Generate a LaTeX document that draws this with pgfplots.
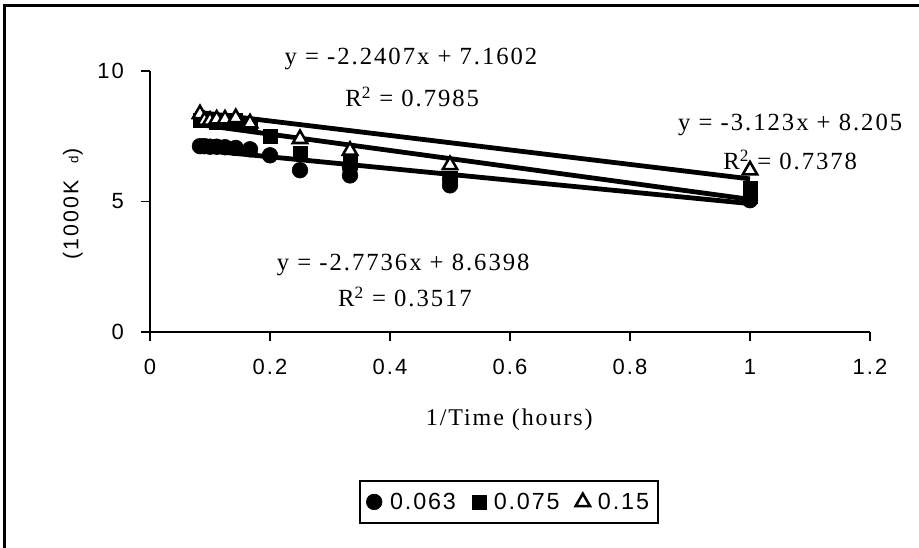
\documentclass[border=0pt]{standalone}
\usepackage{pgfplots}
\pgfplotsset{compat=1.18}
\usepackage{fontspec}
\setmainfont{Liberation Serif}
\newfontfamily\serifsp{Liberation Serif}[LetterSpace=8]
\newfontfamily\sanssp{Liberation Sans}[LetterSpace=10]
\newfontfamily\sanslg{Liberation Sans}[LetterSpace=8]

\begin{document}
\begin{tikzpicture}
\begin{axis}[
  at={(0,0)}, anchor=south west,
  scale only axis,
  width=540pt, height=195.75pt,
  xmin=0, xmax=1.2, ymin=0, ymax=10,
  axis x line*=bottom, axis y line*=left,
  axis line style={line width=1.2pt},
  xtick={0,0.2,0.4,0.6,0.8,1,1.2},
  ytick={0,5,10},
  xticklabels={0,0.2,0.4,0.6,0.8,1,1.2},
  yticklabels={0,5,10},
  tick align=outside,
  major tick length=7pt,
  tick style={line width=1.2pt, black},
  xticklabel style={font=\fontsize{16.5}{18}\sanssp, anchor=north, yshift=-10pt},
  yticklabel style={font=\fontsize{16.5}{18}\sanssp, anchor=east, xshift=-9pt},
  xlabel={\fontsize{18}{20}\serifsp 1/Time (hours)},
  xlabel style={at={(axis description cs:0.499,-0.337)}, anchor=center},
  ylabel={\fontsize{16}{18}\sanssp (1000K\hspace{0.8em}{\fontsize{10}{11}\sanssp d})},
  ylabel style={at={(axis description cs:-0.107,0.49)}, anchor=center},
  legend columns=3,
  legend style={at={(0.4986,-0.651)}, anchor=center, draw=black, line width=1.4pt,
    font=\fontsize{17.5}{20}\sanslg, inner xsep=5pt, inner ysep=7pt,
    /tikz/every odd column/.append style={column sep=4pt},
    /tikz/every even column/.append style={column sep=10pt}},
  legend image code/.code={\draw[#1] plot coordinates {(0.3em,0cm)};},
  clip=false,
]
% K_d = 0.063
\addplot[only marks, mark=*, mark size=5.9pt, mark options={fill=black, draw=black, line width=0.4pt}]
  coordinates {
  (0.0833,7.12) (0.0909,7.12) (0.1,7.10) (0.1111,7.10) (0.125,7.08) (0.1429,7.05)
  (0.1667,7.00) (0.2,6.77) (0.25,6.20) (0.3333,6.00) (0.3333,6.30) (0.5,5.62)
  (0.5,5.85) (1,5.05)
  };
\addlegendentry{0.063}
% K_d = 0.075
\addplot[only marks, mark=square*, mark size=5.2pt, mark options={fill=black, draw=black, line width=0.4pt}]
  coordinates {
  (0.0833,8.10) (0.0909,8.10) (0.1,8.10) (0.1111,8.05) (0.125,8.10) (0.1429,8.10)
  (0.1667,7.95) (0.2,7.50) (0.25,6.85) (0.3333,6.55) (0.5,5.90) (1,5.50) (1,5.20)
  };
\addlegendentry{0.075}
% K_d = 0.15
\addplot[only marks, mark=triangle*, mark size=6.2pt, mark options={fill=white, draw=black, line width=1.9pt}]
  coordinates {
  (0.0833,8.35) (0.0909,8.10) (0.1,8.10) (0.1111,8.15) (0.125,8.15) (0.1429,8.20)
  (0.1667,8.00) (0.25,7.40) (0.3333,6.95) (0.5,6.40) (1,6.20)
  };
\addlegendentry{0.15}
% linear trendlines
\addplot[black, line width=3.6pt, forget plot] coordinates {(0.0833,6.9735) (1,4.9195)};
\addplot[black, line width=3.6pt, forget plot] coordinates {(0.0833,8.4088) (1,5.8662)};
\addplot[black, line width=3.6pt, forget plot] coordinates {(0.0833,7.9449) (1,5.0820)};
% trendline equations
\node[font=\fontsize{18.5}{20}\serifsp] at (axis cs:0.435,10.45) {y = -2.2407x + 7.1602};
\node[font=\fontsize{18.5}{20}\serifsp] at (axis cs:0.437,9.00) {R\textsuperscript{2} = 0.7985};
\node[font=\fontsize{18.5}{20}\serifsp] at (axis cs:1.067,7.93) {y = -3.123x + 8.205};
\node[font=\fontsize{18.5}{20}\serifsp] at (axis cs:1.067,6.59) {R\textsuperscript{2} = 0.7378};
\node[font=\fontsize{18.5}{20}\serifsp] at (axis cs:0.422,2.57) {y = -2.7736x + 8.6398};
\node[font=\fontsize{18.5}{20}\serifsp] at (axis cs:0.425,1.34) {R\textsuperscript{2} = 0.3517};
\end{axis}
% outer frame
\draw[line width=2.25pt] (-108.75pt,245.25pt) rectangle (580pt,-166pt);
\pgfresetboundingbox
\useasboundingbox (-112.5pt,249pt) rectangle (576.75pt,-161.25pt);
\end{tikzpicture}
\end{document}
